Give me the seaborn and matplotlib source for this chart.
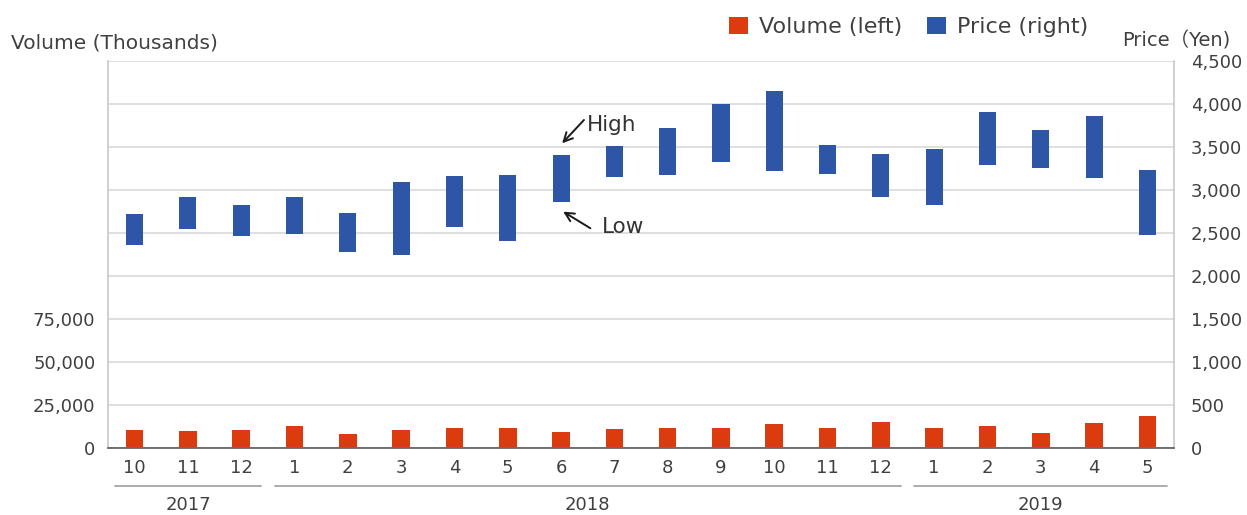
import matplotlib
matplotlib.use("Agg")
import matplotlib.pyplot as plt
import matplotlib.transforms as mtransforms
from matplotlib.patches import Patch
from matplotlib.ticker import FuncFormatter
import seaborn as sns
import pandas as pd
import numpy as np

# ---------------- data ----------------
periods = ["2017-10", "2017-11", "2017-12",
           "2018-01", "2018-02", "2018-03", "2018-04", "2018-05", "2018-06",
           "2018-07", "2018-08", "2018-09", "2018-10", "2018-11", "2018-12",
           "2019-01", "2019-02", "2019-03", "2019-04", "2019-05"]
month_labels = ["10", "11", "12", "1", "2", "3", "4", "5", "6", "7", "8", "9",
                "10", "11", "12", "1", "2", "3", "4", "5"]
volume = [10400, 9600, 10600, 13000, 8100, 10400, 11800, 11800, 9400, 10900,
          11800, 11800, 13900, 11800, 15400, 11500, 12600, 8900, 14300, 18500]
price_high = [2720, 2920, 2830, 2915, 2735, 3095, 3160, 3180, 3405, 3510,
              3715, 4000, 4150, 3520, 3420, 3475, 3910, 3700, 3855, 3230]
price_low = [2355, 2550, 2465, 2485, 2275, 2245, 2565, 2405, 2865, 3150,
             3175, 3320, 3215, 3190, 2920, 2830, 3290, 3255, 3145, 2480]
left_ticks = [0, 25000, 50000, 75000]
right_ticks = [0, 500, 1000, 1500, 2000, 2500, 3000, 3500, 4000, 4500]

RED = "#dc3a0f"
BLUE = "#2d57a6"
TXT = "#404040"

# ---------------- figure ----------------
sns.set_theme(style="white")
plt.rcParams["font.family"] = ["DejaVu Sans", "Noto Sans CJK JP"]

fig = plt.figure(figsize=(12.47, 5.15), dpi=100)
ax = fig.add_axes([0.0866, 0.1301, 0.8549, 0.7515])

df = pd.DataFrame({"period": periods, "volume": volume})
sns.barplot(data=df, x="period", y="volume", ax=ax, color=RED,
            width=0.33, saturation=1, zorder=2, linewidth=0)

ax2 = ax.twinx()
xpos = np.arange(len(periods))
ax2.bar(xpos, np.array(price_high) - np.array(price_low), bottom=price_low,
        width=0.32, color=BLUE, zorder=3, linewidth=0)

ax.set_xlim(-0.5, len(periods) - 0.5)
ax.set_ylim(0, 225000)
ax.set_yticks(left_ticks)
ax.yaxis.set_major_formatter(FuncFormatter(lambda v, p: f"{int(v):,}"))
ax.set_xticks(xpos)
ax.set_xticklabels(month_labels)
ax.set_xlabel("")
ax.set_ylabel("")

ax2.set_ylim(0, 4500)
ax2.set_yticks(right_ticks)
ax2.yaxis.set_major_formatter(FuncFormatter(lambda v, p: f"{int(v):,}"))
ax2.yaxis.grid(True, color="#d9d9d9", lw=1.2)
ax2.set_axisbelow(True)

for s in ax.spines.values():
    s.set_visible(False)
ax2.spines["top"].set_visible(False)
ax2.spines["left"].set_color("#c8c8c8")
ax2.spines["right"].set_color("#c8c8c8")
ax2.spines["bottom"].set_color("#595959")
for s in ("left", "right", "bottom"):
    ax2.spines[s].set_linewidth(1.2)

ax.tick_params(axis="y", length=0, pad=9, labelsize=13, labelcolor=TXT)
ax.tick_params(axis="x", length=0, pad=8, labelsize=13, labelcolor=TXT)
ax2.tick_params(axis="y", length=0, pad=12, labelsize=13, labelcolor=TXT)

# year brackets below the month labels
trans = mtransforms.blended_transform_factory(ax.transData, ax.transAxes)
years = [p[:4] for p in periods]
for yr in dict.fromkeys(years):
    idx = [i for i, y in enumerate(years) if y == yr]
    x0, x1 = idx[0] - 0.5 + 0.13, idx[-1] + 0.5 - 0.13
    ax.plot([x0, x1], [-0.098, -0.098], transform=trans, color="#a6a6a6",
            lw=1.3, clip_on=False)
    ax.text((x0 + x1) / 2, -0.148, yr, transform=trans, ha="center",
            va="center", fontsize=13, color=TXT)

# axis titles
fig.text(11 / 1247, 1 - 43 / 515, "Volume (Thousands)", ha="left", va="center",
         fontsize=14.5, color=TXT)
fig.text(1122 / 1247, 1 - 41 / 515, "Price（Yen)", ha="left", va="center",
         fontsize=14, color=TXT)

# legend
handles = [Patch(color=RED, label="Volume (left)", linewidth=0),
           Patch(color=BLUE, label="Price (right)", linewidth=0)]
fig.legend(handles=handles, loc="center left",
           bbox_to_anchor=(729 / 1247, 1 - 27 / 515), ncol=2, frameon=False,
           fontsize=16, handlelength=0.85, handleheight=0.85,
           handletextpad=0.5, columnspacing=1.1, borderpad=0,
           borderaxespad=0, labelcolor=TXT)

# High / Low annotations
arrow = dict(arrowstyle="->", color="#1a1a1a", lw=1.4, shrinkA=0, shrinkB=0,
             mutation_scale=16)
ax2.annotate("", xy=(8.02, 3543), xytext=(8.43, 3814), arrowprops=arrow)
ax2.text(8.49, 3756, "High", ha="left", va="center", fontsize=15.5, color="#333333")
ax2.annotate("", xy=(8.04, 2748), xytext=(8.55, 2555), arrowprops=arrow)
ax2.text(8.77, 2573, "Low", ha="left", va="center", fontsize=15.5, color="#333333")

fig.savefig("out.png", dpi=100)
